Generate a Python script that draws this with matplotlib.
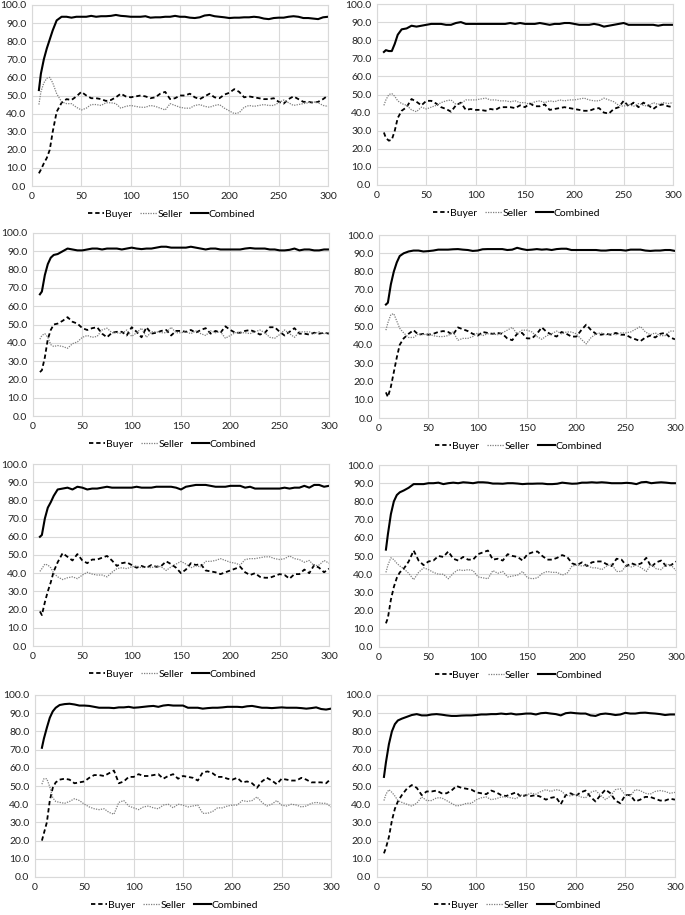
import matplotlib
matplotlib.use("Agg")
import matplotlib.pyplot as plt

plt.rcParams['font.family'] = ['Lato', 'DejaVu Sans']

X = [7, 9, 12, 15, 18, 21, 25, 30, 35, 40, 45, 50, 55, 60, 65, 70, 75, 80, 85, 90,
     95, 100, 105, 110, 115, 120, 125, 130, 135, 140, 145, 150, 155, 160, 165, 170,
     175, 180, 185, 190, 195, 200, 205, 210, 215, 220, 225, 230, 235, 240, 245, 250,
     255, 260, 265, 270, 275, 280, 285, 290, 295, 300]

X_TICKS = [0, 50, 100, 150, 200, 250, 300]
Y_TICKS = [0, 10, 20, 30, 40, 50, 60, 70, 80, 90, 100]
SERIES_NAMES = ["Buyer", "Seller", "Combined"]

# ---- Panel 1 (row 1, left)
P1_COMB = [53, 62, 70, 76, 81, 86, 91.5,
           93.5, 93.5, 93, 93.5, 93.5, 93.5, 94, 93.5, 93.8, 93.8,
           94, 94.5, 94, 93.8, 93.5, 93.5, 93.5, 93.8, 93, 93.2,
           93.2, 93.5, 93.5, 94, 93.5, 93.5, 93, 92.8, 93.2, 94.2,
           94.5, 93.8, 93.5, 93.2, 92.8, 93, 93, 93.2, 93.2, 93.5,
           93.2, 92.5, 92.2, 92.8, 93, 93, 93.5, 93.8, 93.5, 92.8,
           92.8, 92.5, 92.2, 93.2, 93.5]
P1_BUY = [7, 9, 12.5, 15.5, 20, 30, 41,
          46, 48, 47.5, 49.5, 52, 50, 48.5, 48.5, 48, 47,
          47.5, 49, 51, 49.5, 49, 49.5, 50, 49.5, 48.5, 49,
          51, 52, 48, 48.5, 50, 50, 51, 49, 48, 49.5,
          51, 49, 48.5, 50.5, 51.5, 53.5, 52, 49, 49.5, 49,
          48.5, 48, 48, 48.5, 46.5, 45.5, 48, 49.5, 48, 46.5,
          46.5, 46, 46.5, 48, 50]
P1_SELL = [45, 52, 57, 59.5, 60, 57, 51,
           46.5, 45.5, 45.5, 43.5, 42, 43, 45, 45, 44.5, 46,
           46, 45.5, 43, 44, 44.5, 44, 43.5, 43.5, 44.5, 44,
           43, 42, 45.5, 44.5, 43.5, 43, 43, 44.5, 45, 44,
           43.5, 44.5, 45, 43, 41.5, 40, 40.5, 43.5, 44.5, 44,
           44.5, 45, 44.5, 44.5, 46, 47.5, 46, 44.5, 45, 45.5,
           46, 46.5, 46, 44.5, 44]

# ---- Panel 2 (row 1, right)
P2_COMB = [73.5, 74.5, 74, 74, 78, 83, 86,
           86.5, 88, 87.5, 88, 88.5, 89, 89, 89, 88.5, 88.5,
           89.5, 90, 89, 89, 89, 89, 89, 89, 89, 89,
           89, 89.5, 89, 89.5, 89, 89, 89, 89.5, 89, 88.5,
           89, 89, 89.5, 89.5, 89, 88.5, 88.5, 88.5, 89, 88.5,
           87.5, 88, 88.5, 89, 89.5, 88.5, 88.5, 88.5, 88.5, 88.5,
           88.5, 88, 88.5, 88.5, 88.5]
P2_BUY = [29, 26, 24.5, 25, 30, 37, 41,
          43, 47.5, 46, 44, 46.5, 46.5, 45, 43, 42, 40.5,
          44, 45.5, 41.5, 42, 41.5, 41.5, 41, 42, 41.5, 43,
          43, 43, 42.5, 44, 43, 45, 43.5, 43.5, 44.5, 41.5,
          42, 42.5, 43, 42.5, 42, 41.5, 41, 41, 42, 42.5,
          40, 39.5, 42, 43, 46.5, 43.5, 45.5, 43, 45.5, 44,
          42, 44, 44.5, 43.5, 43]
P2_SELL = [44, 47, 50, 50.5, 49, 46.5, 45,
           44, 41.5, 40.5, 43, 42, 43, 44, 45.5, 46.5, 47,
           44.5, 45, 47, 47, 47, 47.5, 48, 47, 47, 46.5,
           46.5, 46, 46.5, 45.5, 45.5, 44.5, 46, 46.5, 45.5, 46.5,
           46, 47, 46.5, 47, 47, 47.5, 48, 47, 46.5, 46.5,
           48, 47, 46, 44, 43.5, 44.5, 43.5, 45, 44, 43.5,
           45.5, 44.5, 45.5, 45, 45.5]

# ---- Panel 3 (row 2, left)
P3_COMB = [66.5, 68, 77, 83, 86.5, 88, 88.5,
           90, 91.5, 91, 90.5, 90.5, 91, 91.5, 91.5, 91, 91.5,
           91.5, 91.5, 91, 91.5, 92, 91.5, 91.2, 91.5, 91.5, 92,
           92.5, 92.5, 92, 92, 92, 92, 92.5, 92, 91.5, 91,
           91.5, 91.5, 91, 91, 91, 91, 91, 91.5, 91.8, 91.5,
           91.5, 91.5, 91, 91, 90.5, 90.5, 90.8, 91.5, 90.5, 91,
           91, 90.5, 90.5, 91, 91]
P3_BUY = [24, 25, 32, 42, 47, 50, 50.5,
          52, 54, 51.5, 50.5, 48, 47, 48, 48.5, 45, 43,
          45.5, 46, 46, 44, 48.5, 46, 43, 48.5, 45, 45.5,
          46.5, 47, 44, 46.5, 46.5, 46, 47, 45.5, 47, 48,
          45, 46.5, 45.5, 49, 47, 45.5, 45.5, 46.5, 47, 46,
          44.5, 45.5, 48.5, 48.5, 46, 44, 46, 48, 45, 45,
          44.5, 45.5, 45, 45.5, 45]
P3_SELL = [42, 44, 45, 43, 39, 38, 38.5,
           38, 37, 39.5, 40.5, 43, 44, 43, 43.5, 47, 48,
           45.5, 45.5, 45, 47, 43.5, 45.5, 48, 43, 46, 46,
           45.5, 45.5, 48.5, 45.5, 45.5, 46, 45, 46.5, 45, 44,
           46.5, 45.5, 46, 42.5, 44, 45.5, 45.5, 45.5, 45, 46,
           47, 45.5, 43, 42.5, 44.5, 47, 45, 43, 46, 46,
           46, 45, 46, 45, 45.5]

# ---- Panel 4 (row 2, right)
P4_COMB = [62, 63, 73, 80, 85, 88.5, 90,
           91, 91.5, 91.5, 91, 91.2, 91.5, 92, 92, 92, 92.2,
           92.3, 92, 91.8, 91.3, 91.5, 92.2, 92.3, 92.3, 92.3, 92.3,
           91.8, 92, 93, 92.3, 91.8, 92, 92.3, 92, 92.2, 91.8,
           92.3, 92.5, 92.5, 91.8, 91.8, 91.8, 91.8, 91.8, 91.8, 91.5,
           91.5, 91.8, 91.8, 91.8, 91.5, 92, 92, 92, 91.5, 91.3,
           91.5, 91.5, 91.8, 91.8, 91.3]
P4_BUY = [14, 11.5, 17, 25, 33, 40, 43.5,
          46, 48, 45.5, 46, 45.5, 46, 47, 47.5, 47, 45.5,
          49.5, 48.5, 47.5, 46, 45, 47, 46.5, 46, 46.5, 46,
          43.5, 42.5, 46, 46.5, 43.5, 43.5, 46, 49.5, 47, 45.5,
          44.5, 47, 46, 44.5, 44.5, 48, 51, 48, 46, 45.5,
          46, 45.5, 46.5, 45.5, 45.5, 44, 43, 42, 44, 45,
          44, 46, 46.5, 44, 43]
P4_SELL = [48, 52, 56.5, 57, 53, 49, 46.5,
           44, 44, 46, 45.5, 46, 45, 44.5, 44.5, 45, 47,
           42.5, 43.5, 43.5, 44.5, 46.5, 45, 46, 46, 45.5, 46.5,
           48, 49.5, 46, 48, 48, 47, 44.5, 43, 45, 46,
           47.5, 46, 47, 47, 46, 43, 40.5, 44, 46, 46.5,
           45.5, 46, 45.5, 46.5, 46.5, 47, 48.5, 50, 47, 45.5,
           46.5, 45, 45, 47.5, 47.5]

# ---- Panel 5 (row 3, left)
P5_COMB = [60, 61, 70, 76, 79, 82.5, 86,
           86.5, 87, 86, 87.5, 87, 86, 86.5, 86.5, 87, 87.5,
           87, 87, 87, 87, 87, 87.5, 87, 87, 87, 87.5,
           87.5, 87.5, 87.5, 87, 86, 87.5, 88, 88.5, 88.5, 88.5,
           88, 87.5, 87.5, 87.5, 88, 88, 88, 87, 87.5, 86.5,
           86.5, 86.5, 86.5, 86.5, 86.5, 87, 86.5, 87, 87, 88,
           87, 88.5, 88.5, 87.5, 88]
P5_BUY = [19, 17, 24, 30, 35, 41, 46,
          51, 49, 47, 50.5, 47, 45.5, 47.5, 47.5, 48.5, 49.5,
          47, 44, 45.5, 46, 44.5, 43, 44, 43, 44.5, 43.5,
          44, 46.5, 45, 43, 40, 42, 45.5, 44.5, 45, 41.5,
          41, 40.5, 39.5, 40.5, 41.5, 42.5, 43.5, 40.5, 39, 40,
          38, 37.5, 37.5, 38.5, 39.5, 39, 37, 39.5, 39.5, 42,
          40, 44.5, 43, 40.5, 42.5]
P5_SELL = [41, 42.5, 45, 44.5, 43, 40, 38,
           36.5, 37.5, 38, 37, 39, 40.5, 39.5, 39, 39, 38,
           40.5, 42.5, 43, 42.5, 43.5, 44, 43, 43.5, 43, 44,
           43.5, 41.5, 43.5, 45, 46.5, 45, 43, 44, 43.5, 46.5,
           46.5, 47, 48, 47, 46, 45.5, 44.5, 47.5, 48, 48,
           48.5, 49, 49, 48, 47.5, 48, 49.5, 48, 47.5, 46,
           47, 44, 44.5, 47, 45.5]

# ---- Panel 6 (row 3, right)
P6_COMB = [53.5, 62, 73, 80, 83.5, 85, 86,
           87.5, 89.5, 89.5, 89.5, 90, 90, 90.3, 89.5, 90, 90.3,
           90, 90.5, 90.3, 90, 90.5, 90.5, 90.3, 89.8, 89.8, 89.7,
           90, 90, 89.8, 89.5, 89.7, 89.7, 89.8, 89.8, 89.5, 89.5,
           89.7, 90.3, 90, 89.7, 89.8, 90.3, 90.3, 90.5, 90.3, 90.5,
           90.3, 90, 90, 90, 90.2, 90, 89.5, 90.5, 90.7, 90,
           90.3, 90.5, 90.3, 90, 90]
P6_BUY = [13, 16, 26, 33, 38, 41, 43,
          47, 53, 47.5, 45, 47, 47.5, 50, 49.5, 52.5, 48.5,
          47.5, 49.5, 48, 48, 51, 52, 53, 48, 48.5, 47.5,
          51, 50, 49.5, 47.5, 51, 52, 52.5, 50, 48, 48,
          49, 50.5, 49.5, 46, 45, 46.5, 44.5, 46.5, 47, 47,
          45.5, 44.5, 48.5, 48, 44.5, 46, 45, 46, 49, 44,
          46.5, 47.5, 44.5, 45, 47]
P6_SELL = [41, 45, 49, 48, 46, 44.5, 43,
           40.5, 37, 41, 43.5, 42.5, 41, 40, 40, 37.5, 40.5,
           42.5, 42, 42.5, 42, 38.5, 38, 37.5, 42, 40.5, 41.5,
           38.5, 39, 39.5, 41.5, 38, 37.5, 38, 40.5, 41.5, 41,
           41, 39.5, 40.5, 44.5, 45, 44.5, 45, 43.5, 43.5, 42.5,
           44.5, 45.5, 41.5, 41.5, 45, 44, 45, 43.5, 41.5, 45.5,
           43, 42.5, 45.5, 45, 42]

# ---- Panel 7 (row 4, left)
P7_COMB = [71, 76, 82, 87.5, 91, 93, 94.5,
           95, 95.2, 94.8, 94.2, 94.2, 94, 93.5, 93, 93, 93,
           92.8, 93.2, 93.2, 93.5, 93, 93.2, 93.5, 93.8, 94, 93.5,
           94.2, 94.5, 94.2, 94.2, 94.2, 93, 93, 93, 92.5, 92.8,
           93, 93, 93.2, 93.5, 93.5, 93.5, 93.3, 93.8, 94, 93.5,
           93, 93, 92.8, 93, 93.2, 93, 93, 93, 92.8, 92.5,
           92.8, 93.2, 92.3, 92, 92.5]
P7_BUY = [20, 24, 30, 42, 49, 52, 53.5,
          54, 53.5, 51.5, 52, 52.5, 54.5, 56, 56, 55.5, 57,
          58.5, 51.5, 52.5, 55, 55, 56.5, 55.5, 55.5, 56, 56.5,
          54, 55.5, 56.5, 54, 55.5, 55, 54.5, 53, 57.5, 58,
          57, 55, 55, 54, 53.5, 54.5, 52, 52.5, 51.5, 49,
          52.5, 54.5, 53, 51, 54, 53.5, 53, 53, 54.5, 53.5,
          52, 52, 52, 51.5, 54]
P7_SELL = [51, 54, 54, 49.5, 43.5, 41.5, 41,
           40.5, 41.5, 43, 42, 40, 38.5, 37.5, 37, 37.5, 35.5,
           34.5, 41, 42, 39, 38, 37, 38.5, 39, 38, 37.5,
           39.5, 40, 38, 40, 39.5, 38.5, 39, 39.5, 35, 35,
           36, 38, 38, 39, 39.5, 39.5, 42, 41.5, 42, 44,
           41, 39, 40, 42, 39.5, 39, 40, 39.5, 38.5, 39,
           40.5, 41, 40.5, 40.5, 38.5]

# ---- Panel 8 (row 4, right)
P8_COMB = [55, 63, 73, 80, 84, 86, 87,
           88, 89, 89.5, 88.8, 88.8, 89.3, 89.5, 89.2, 88.8, 88.5,
           88.5, 88.7, 88.8, 88.8, 89, 89.3, 89.3, 89.5, 89.5, 89.8,
           89.5, 89.8, 89.3, 89.5, 89.8, 89.8, 89.3, 90, 90.2, 89.8,
           89.5, 88.8, 90, 90.3, 90, 89.8, 89.8, 88.8, 88.5, 89.5,
           89.8, 89.5, 89, 89.3, 90.2, 89.8, 89.8, 90.2, 90.3, 90,
           89.8, 89.5, 89, 89.3, 89.3]
P8_BUY = [13, 16, 22, 31, 37.5, 41.5, 45,
          48.5, 50.5, 49, 45, 47, 47, 47.5, 46, 46, 47.5,
          50, 49, 48.5, 48, 46.5, 46, 45.5, 47.5, 46.5, 45,
          44.5, 45.5, 46.5, 44, 45, 44.5, 45, 44, 42.5, 43.5,
          44, 40, 45, 46, 44.5, 46.5, 47.5, 44, 41.5, 45,
          48, 46, 42, 40.5, 45, 45, 41.5, 42.5, 44, 44,
          43, 42, 42, 43, 42.5]
P8_SELL = [42, 45.5, 48, 46.5, 44.5, 42, 41,
           40, 39, 40.5, 44, 42, 42, 43.5, 43.5, 42, 40.5,
           39, 39.5, 40.5, 40.5, 42.5, 43.5, 44, 42.5, 43, 44,
           44, 43.5, 43, 45, 45, 46, 45.5, 47, 48, 47,
           48, 47.5, 45, 44.5, 45.5, 44, 43.5, 46.5, 47.5, 45,
           42.5, 44.5, 48, 48.5, 45, 44.5, 48, 47.5, 46, 45.5,
           47, 47.5, 47, 46, 46.5]

PANELS = [
    (P1_BUY, P1_SELL, P1_COMB),
    (P2_BUY, P2_SELL, P2_COMB),
    (P3_BUY, P3_SELL, P3_COMB),
    (P4_BUY, P4_SELL, P4_COMB),
    (P5_BUY, P5_SELL, P5_COMB),
    (P6_BUY, P6_SELL, P6_COMB),
    (P7_BUY, P7_SELL, P7_COMB),
    (P8_BUY, P8_SELL, P8_COMB),
]
for p in PANELS:
    for s in p:
        assert len(s) == len(X), len(s)

# pixel boxes (left, right, top, bottom) for each panel
W, H = 685, 915
BOXES = [
    (32, 328, 5, 186), (377, 673, 4, 185),
    (33, 329, 233, 416), (379, 675, 235, 418),
    (33, 329, 464, 646), (379, 676, 465, 647),
    (35, 331, 695, 877), (377, 675, 695, 877),
]

fig = plt.figure(figsize=(W / 100, H / 100), dpi=100)
fig.patch.set_facecolor('white')

GRID = '#d9d9d9'
FS = 7.5

for (buy, sell, comb), (l, r, t, b) in zip(PANELS, BOXES):
    ax = fig.add_axes([l / W, 1 - b / H, (r - l) / W, (b - t) / H])
    ax.set_xlim(0, 300)
    ax.set_ylim(0, 100)
    ax.set_xticks(X_TICKS)
    ax.set_yticks(Y_TICKS)
    ax.set_yticklabels([f"{v:.1f}" for v in Y_TICKS])
    ax.grid(True, color=GRID, linewidth=0.8)
    ax.set_axisbelow(True)
    for sp in ax.spines.values():
        sp.set_color(GRID)
        sp.set_linewidth(0.8)
    ax.tick_params(length=0, labelsize=FS, pad=4, colors='#222222')
    ax.plot(X, buy, color='black', linewidth=1.3, linestyle=(0, (2.4, 1.6)),
            label=SERIES_NAMES[0])
    ax.plot(X, sell, color='#7f7f7f', linewidth=0.9, linestyle=(0, (1, 1)),
            label=SERIES_NAMES[1])
    ax.plot(X, comb, color='black', linewidth=1.5, label=SERIES_NAMES[2])
    ax.legend(loc='center', bbox_to_anchor=(0.47, -0.155), ncol=3, frameon=False,
              fontsize=FS, handlelength=1.6, handletextpad=0.05, columnspacing=0.8,
              borderaxespad=0)

fig.savefig('out.png', dpi=100, facecolor='white')
